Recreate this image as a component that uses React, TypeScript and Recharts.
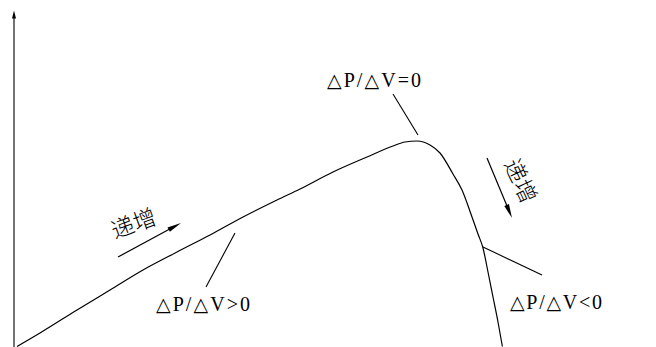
import React from 'react';
import { LineChart, Line, XAxis, YAxis, ReferenceLine, ReferenceDot } from 'recharts';

// P-V curve (arbitrary units)
const voltage = [3, 26, 63, 96, 129, 163, 196, 229, 263, 286, 319, 353, 379, 391, 403, 416, 426, 439, 448, 458, 464, 469, 474, 479, 484, 488.4];
const power = [0.5, 14, 37, 57, 77, 95, 112, 130, 147, 158, 175, 190, 201, 205, 206, 202, 194, 173, 157, 130, 113, 99, 75, 50, 25, 0.5];

const data = voltage.map((v, i) => ({ v, p: power[i] }));

// annotation texts: [symbol part, relation]
const labelZero = ['P/', 'V=0'];
const labelPos = ['P/', 'V>0'];
const labelNeg = ['P/', 'V<0'];
const labelInc = '递增';

const W = 656;
const H = 347;

const arrowShape = (head: number, width: number, sw: number) => (props: any) => {
  const { x1, y1, x2, y2 } = props;
  const dx = x2 - x1;
  const dy = y2 - y1;
  const len = Math.hypot(dx, dy) || 1;
  const ux = dx / len;
  const uy = dy / len;
  const bx = x2 - ux * head;
  const by = y2 - uy * head;
  const px = (-uy * width) / 2;
  const py = (ux * width) / 2;
  return (
    <g>
      <line x1={x1} y1={y1} x2={x2 - ux * head * 0.5} y2={y2 - uy * head * 0.5} stroke="#000" strokeWidth={sw} />
      <polygon points={`${x2},${y2} ${bx + px},${by + py} ${bx - px},${by - py}`} fill="#000" />
    </g>
  );
};

const TRI = '△';

const serifText = (parts: string[], len: number) => (props: any) => {
  const vb = props.viewBox || {};
  const x = (vb.x ?? 0) + (vb.width ?? 0) / 2;
  const y = (vb.y ?? 0) + (vb.height ?? 0) / 2;
  const tri = { fontFamily: "'DejaVu Sans', sans-serif", fontSize: 19 } as const;
  return (
    <text
      x={x}
      y={y}
      fontFamily="'Liberation Serif', 'DejaVu Serif', serif"
      fontSize={20}
      fill="#000"
      textLength={len}
      lengthAdjust="spacing"
    >
      <tspan {...tri}>{TRI}</tspan>
      <tspan>{parts[0]}</tspan>
      <tspan {...tri}>{TRI}</tspan>
      <tspan>{parts[1]}</tspan>
    </text>
  );
};

const cjkText = (text: string, angle: number) => (props: any) => {
  const vb = props.viewBox || {};
  const x = (vb.x ?? 0) + (vb.width ?? 0) / 2;
  const y = (vb.y ?? 0) + (vb.height ?? 0) / 2;
  return (
    <text
      x={x}
      y={y}
      transform={`rotate(${angle} ${x} ${y})`}
      fontFamily="'Noto Sans CJK SC', sans-serif"
      fontSize={23}
      fontWeight={300}
      fill="#000"
      textAnchor="middle"
      dominantBaseline="central"
    >
      {text}
    </text>
  );
};

export default function App() {
  return (
    <div style={{ position: 'absolute', left: 0, top: 0, width: W, height: H, background: '#fff' }}>
      <LineChart width={W} height={H} data={data} margin={{ top: 10, right: 0, bottom: 0, left: 14 }}>
        <XAxis dataKey="v" type="number" domain={[0, 642]} hide />
        <YAxis type="number" domain={[0, 337]} hide />
        {/* vertical axis with arrow */}
        <ReferenceLine
          segment={[{ x: 0, y: 0 }, { x: 0, y: 336.5 }]}
          ifOverflow="visible"
          shape={arrowShape(8, 4, 1.1)}
        />
        <Line
          type="monotone"
          dataKey="p"
          stroke="#000"
          strokeWidth={1.2}
          dot={false}
          isAnimationActive={false}
        />
        {/* leader lines */}
        <ReferenceLine segment={[{ x: 379, y: 253 }, { x: 404, y: 212 }]} stroke="#000" strokeWidth={1.1} ifOverflow="visible" />
        <ReferenceLine segment={[{ x: 221, y: 114 }, { x: 192, y: 60 }]} stroke="#000" strokeWidth={1.1} ifOverflow="visible" />
        <ReferenceLine segment={[{ x: 469, y: 100 }, { x: 528, y: 72 }]} stroke="#000" strokeWidth={1.1} ifOverflow="visible" />
        {/* direction arrows */}
        <ReferenceLine segment={[{ x: 104, y: 90 }, { x: 167, y: 124 }]} ifOverflow="visible" shape={arrowShape(14, 5, 1.2)} />
        <ReferenceLine segment={[{ x: 473, y: 189 }, { x: 498, y: 129 }]} ifOverflow="visible" shape={arrowShape(14, 5, 1.2)} />
        {/* texts */}
        <ReferenceDot x={313} y={260} r={0} fill="none" stroke="none" ifOverflow="visible" label={{ content: serifText(labelZero, 94) }} />
        <ReferenceDot x={142} y={36} r={0} fill="none" stroke="none" ifOverflow="visible" label={{ content: serifText(labelPos, 94) }} />
        <ReferenceDot x={496} y={38} r={0} fill="none" stroke="none" ifOverflow="visible" label={{ content: serifText(labelNeg, 92) }} />
        <ReferenceDot x={119} y={125} r={0} fill="none" stroke="none" ifOverflow="visible" label={{ content: cjkText(labelInc, -20) }} />
        <ReferenceDot x={508} y={167} r={0} fill="none" stroke="none" ifOverflow="visible" label={{ content: cjkText(labelInc, 65) }} />
      </LineChart>
    </div>
  );
}
